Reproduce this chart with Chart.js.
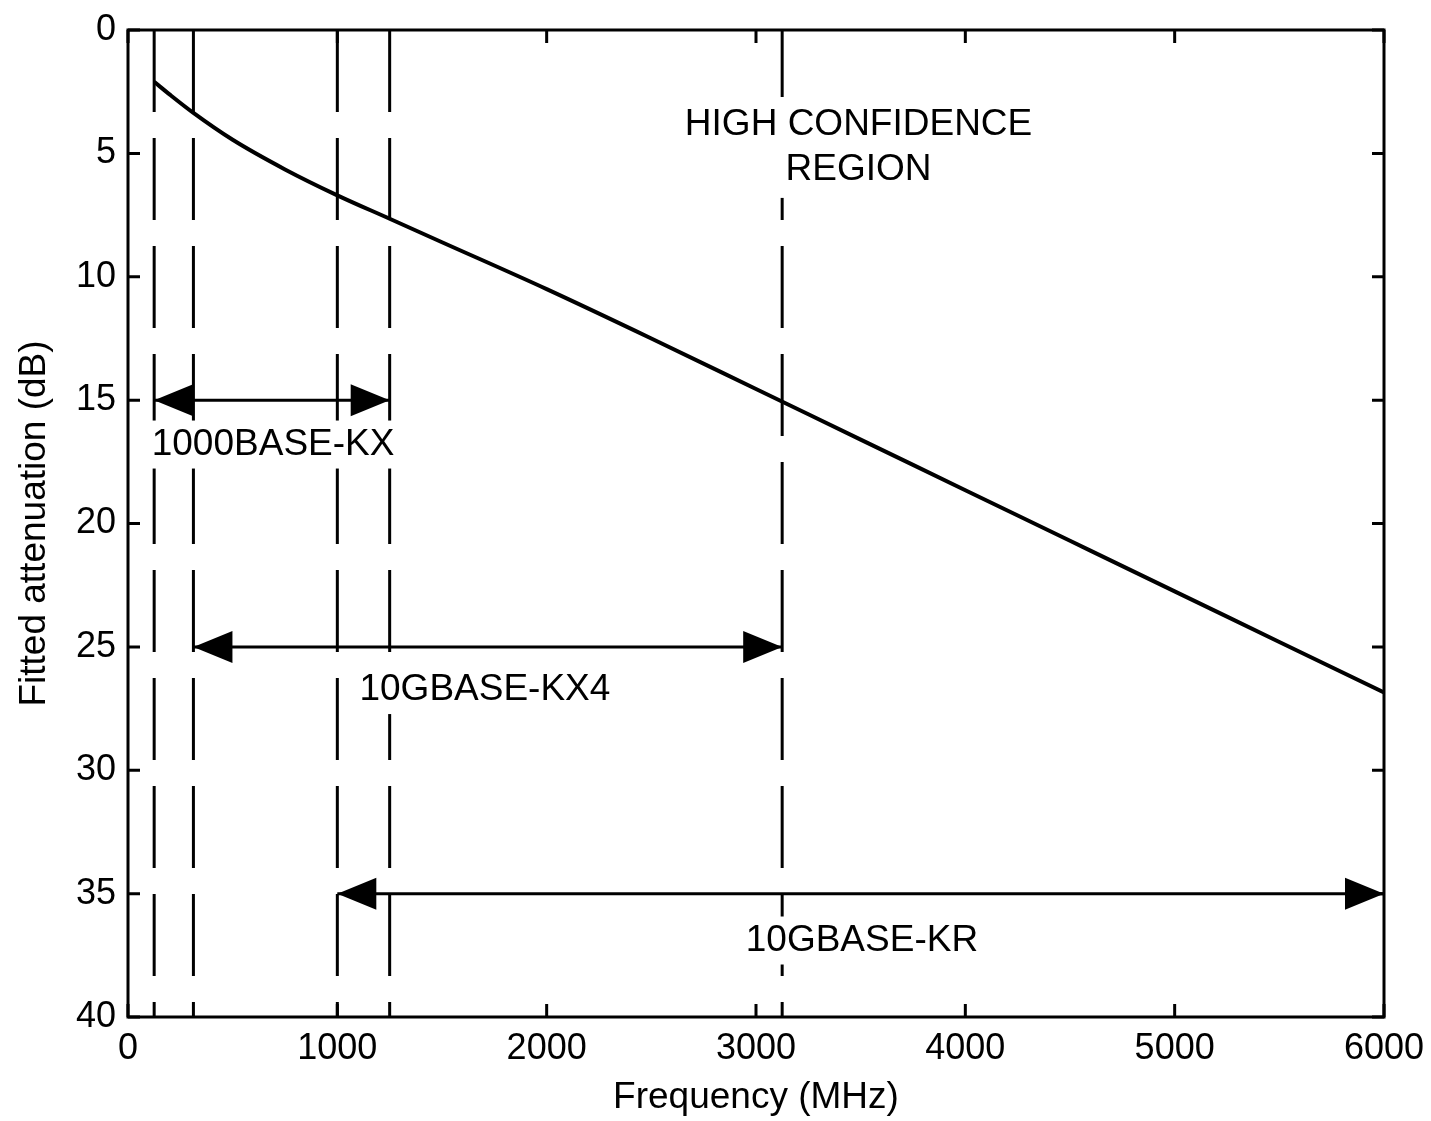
<!DOCTYPE html>
<html>
<head>
<meta charset="utf-8">
<script src="https://cdn.jsdelivr.net/npm/chart.js@4.4.1/dist/chart.umd.min.js"></script>
<style>
    html, body { margin: 0; padding: 0; background: #fff; }
</style>
</head>
<body>
<canvas id="loss-chart" width="1431" height="1121"></canvas>
<script>
// fitted attenuation curve
const freqs = [125, 200, 312.5, 500, 750, 1000, 1250, 1500, 2000, 2500, 3000, 3500, 4000, 4500, 5000, 5500, 6000];
const atten = [2.1, 2.62, 3.36, 4.45, 5.65, 6.7, 7.65, 8.6, 10.5, 12.5, 14.55, 16.6, 18.65, 20.7, 22.75, 24.8, 26.85];

// dashed marker lines (MHz)
const markerFreqs = [125, 312.5, 1000, 1250, 3125];

// band arrows
const bandNames = ['1000BASE-KX', '10GBASE-KX4', '10GBASE-KR'];
const bandStart = [125, 312.5, 1000];
const bandEnd = [1250, 3125, 6000];
const bandLevel = [15, 25, 35];
const bandLabelX = [693, 1705, 3506];
const bandLabelY = [16.8, 26.75, 36.9];

const noteLines = ['HIGH CONFIDENCE', 'REGION'];
const noteX = 3490;
const noteY = [3.85, 5.67];

const xTicks = [0, 1000, 2000, 3000, 4000, 5000, 6000];
const yTicks = [0, 5, 10, 15, 20, 25, 30, 35, 40];

const FONT = "'Liberation Sans', Arial, sans-serif";

function arrowHead(ctx, tipX, tipY, dir) {
    ctx.beginPath();
    ctx.moveTo(tipX, tipY);
    ctx.lineTo(tipX + dir * 39, tipY - 16);
    ctx.lineTo(tipX + dir * 39, tipY + 16);
    ctx.closePath();
    ctx.fill();
}

const overlay = {
    id: 'overlay',
    afterDatasetsDraw(chart) {
        const {ctx, chartArea, scales: {x, y}} = chart;
        ctx.save();
        ctx.fillStyle = '#000';
        bandLevel.forEach((lvl, i) => {
            const py = y.getPixelForValue(lvl);
            arrowHead(ctx, x.getPixelForValue(bandStart[i]), py, 1);
            arrowHead(ctx, x.getPixelForValue(bandEnd[i]), py, -1);
        });

        ctx.font = `37px ${FONT}`;
        ctx.textAlign = 'center';
        ctx.textBaseline = 'middle';
        bandNames.forEach((name, i) => {
            const px = x.getPixelForValue(bandLabelX[i]);
            const py = y.getPixelForValue(bandLabelY[i]);
            const w = ctx.measureText(name).width;
            ctx.fillStyle = '#fff';
            ctx.fillRect(px - w / 2 - 3, py - 24, w + 6, 48);
            ctx.fillStyle = '#000';
            ctx.fillText(name, px, py);
        });

        // the note gets one white box behind both lines
        const nx = x.getPixelForValue(noteX);
        const ny = noteY.map(v => y.getPixelForValue(v));
        const nw = Math.max(...noteLines.map(t => ctx.measureText(t).width));
        ctx.fillStyle = '#fff';
        ctx.fillRect(nx - nw / 2 - 3, ny[0] - 28, nw + 6, ny[ny.length - 1] - ny[0] + 56);
        ctx.fillStyle = '#000';
        noteLines.forEach((line, i) => ctx.fillText(line, nx, ny[i]));

        // frame + inward ticks
        ctx.strokeStyle = '#000';
        ctx.lineWidth = 3;
        ctx.strokeRect(chartArea.left, chartArea.top, chartArea.width, chartArea.height);
        ctx.beginPath();
        xTicks.forEach(v => {
            const px = x.getPixelForValue(v);
            ctx.moveTo(px, chartArea.bottom);
            ctx.lineTo(px, chartArea.bottom - 13);
            ctx.moveTo(px, chartArea.top);
            ctx.lineTo(px, chartArea.top + 13);
        });
        yTicks.forEach(v => {
            const py = y.getPixelForValue(v);
            ctx.moveTo(chartArea.left, py);
            ctx.lineTo(chartArea.left + 12, py);
            ctx.moveTo(chartArea.right, py);
            ctx.lineTo(chartArea.right - 12, py);
        });
        ctx.stroke();
        ctx.restore();
    }
};

const datasets = [{
    data: freqs.map((f, i) => ({x: f, y: atten[i]})),
    borderColor: '#000',
    borderWidth: 4,
    cubicInterpolationMode: 'monotone',
    pointRadius: 0
}];
markerFreqs.forEach(f => {
    datasets.push({
        data: [{x: f, y: 0}, {x: f, y: 40}],
        borderColor: '#000',
        borderWidth: 3,
        borderDash: [82, 26],
        pointRadius: 0
    });
});
bandLevel.forEach((lvl, i) => {
    datasets.push({
        data: [{x: bandStart[i], y: lvl}, {x: bandEnd[i], y: lvl}],
        borderColor: '#000',
        borderWidth: 3,
        pointRadius: 0
    });
});

Chart.defaults.color = '#000';
Chart.defaults.font.family = FONT;

new Chart(document.getElementById('loss-chart').getContext('2d'), {
    type: 'scatter',
    data: {datasets: datasets},
    options: {
        responsive: false,
        devicePixelRatio: 1,
        animation: false,
        showLine: true,
        layout: {padding: {top: 30, right: 47, left: 0, bottom: 0}},
        plugins: {legend: {display: false}, tooltip: {enabled: false}},
        scales: {
            x: {
                type: 'linear',
                min: 0,
                max: 6000,
                afterFit: (scale) => {
                    scale.height = 104;
                    scale.paddingLeft = 0;
                    scale.paddingRight = 0;
                },
                afterBuildTicks: (scale) => { scale.ticks = xTicks.map(v => ({value: v})); },
                grid: {display: false, drawTicks: false},
                border: {display: false},
                ticks: {font: {size: 36}, padding: 10, maxRotation: 0, callback: (v) => String(v)},
                title: {display: true, text: 'Frequency (MHz)', font: {size: 37}, padding: {top: 0, bottom: 1}}
            },
            y: {
                type: 'linear',
                min: 0,
                max: 40,
                reverse: true,
                afterFit: (scale) => {
                    scale.width = 128;
                    scale.paddingTop = 0;
                    scale.paddingBottom = 0;
                },
                afterBuildTicks: (scale) => { scale.ticks = yTicks.map(v => ({value: v})); },
                grid: {display: false, drawTicks: false},
                border: {display: false},
                ticks: {font: {size: 36}, padding: 12, callback: (v) => String(v)},
                title: {display: true, text: 'Fitted attenuation (dB)', font: {size: 37}, padding: {top: 13, bottom: 0}}
            }
        }
    },
    plugins: [overlay]
});
</script>
</body>
</html>
